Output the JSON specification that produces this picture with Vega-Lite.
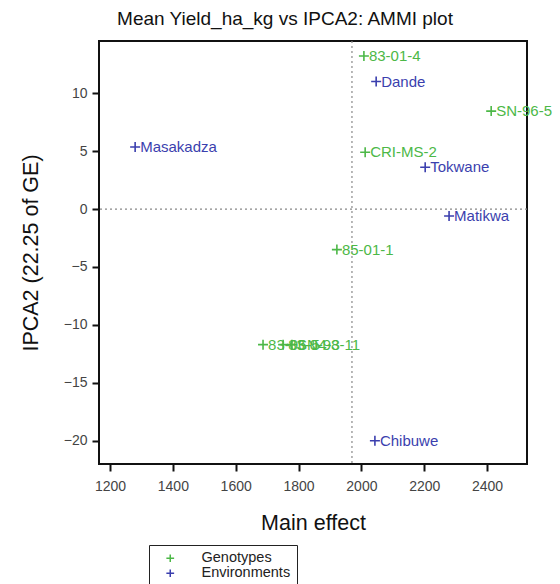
{
  "$schema": "https://vega.github.io/schema/vega-lite/v6.json",
  "autosize": {"type": "none"},
  "width": 428,
  "height": 423,
  "padding": {"left": 99, "top": 41, "right": 33, "bottom": 120},
  "background": "white",
  "title": {"text": "Mean Yield_ha_kg vs IPCA2: AMMI plot", "fontSize": 19, "fontWeight": "normal", "font": "Liberation Sans", "color": "#111", "offset": 11, "dx": -28},
  "config": {
    "view": {"stroke": "#111", "strokeWidth": 2},
    "axis": {"labelFont": "Liberation Sans", "titleFont": "Liberation Sans", "labelFontSize": 14, "labelColor": "#444", "titleFontSize": 21.5, "titleFontWeight": "normal", "titleColor": "#111", "domain": false, "grid": false, "tickColor": "#111", "tickWidth": 2, "tickSize": 7},
    "legend": {"strokeColor": "#222", "padding": 6}
  },
  "datasets": {
    "pts": [
      {"name": "83-01-4", "effect": 2008, "ipca2": 13.2, "type": "Genotypes"},
      {"name": "Dande", "effect": 2047, "ipca2": 11.0, "type": "Environments"},
      {"name": "SN-96-5", "effect": 2413, "ipca2": 8.45, "type": "Genotypes"},
      {"name": "Masakadza", "effect": 1280, "ipca2": 5.35, "type": "Environments"},
      {"name": "CRI-MS-2", "effect": 2012, "ipca2": 4.9, "type": "Genotypes"},
      {"name": "Tokwane", "effect": 2203, "ipca2": 3.6, "type": "Environments"},
      {"name": "Matikwa", "effect": 2279, "ipca2": -0.6, "type": "Environments"},
      {"name": "85-01-1", "effect": 1922, "ipca2": -3.5, "type": "Genotypes"},
      {"name": "83-06-5", "effect": 1687, "ipca2": -11.7, "type": "Genotypes"},
      {"name": "83-04-3", "effect": 1751, "ipca2": -11.7, "type": "Genotypes"},
      {"name": "SN-98-11", "effect": 1779, "ipca2": -11.7, "type": "Genotypes"},
      {"name": "Chibuwe", "effect": 2043, "ipca2": -20.0, "type": "Environments"}
    ],
    "refs": [{"mean": 1970, "zero": 0}]
  },
  "layer": [
    {
      "data": {"name": "refs"},
      "mark": {"type": "rule", "color": "#888", "strokeDash": [2, 3], "strokeWidth": 1.2},
      "encoding": {"x": {"field": "mean", "type": "quantitative", "scale": {"domain": [1165, 2527], "nice": false}}}
    },
    {
      "data": {"name": "refs"},
      "mark": {"type": "rule", "color": "#888", "strokeDash": [2, 3], "strokeWidth": 1.2},
      "encoding": {"y": {"field": "zero", "type": "quantitative", "scale": {"domain": [-22, 14.5], "nice": false}}}
    },
    {
      "data": {"name": "pts"},
      "mark": {"type": "point", "shape": "M-1,0H1M0,-1V1", "filled": false, "strokeWidth": 1.6, "size": 100, "opacity": 1},
      "encoding": {
        "x": {"field": "effect", "type": "quantitative", "scale": {"domain": [1165, 2527], "nice": false, "zero": false}, "axis": {"values": [1200, 1400, 1600, 1800, 2000, 2200, 2400], "format": "d", "title": "Main effect", "labelPadding": 8, "titlePadding": 19}},
        "y": {"field": "ipca2", "type": "quantitative", "scale": {"domain": [-22, 14.5], "nice": false, "zero": false}, "axis": {"values": [-20, -15, -10, -5, 0, 5, 10], "format": "d", "title": "IPCA2 (22.25 of GE)", "labelPadding": 5, "titlePadding": 21}},
        "color": {"field": "type", "type": "nominal", "scale": {"domain": ["Genotypes", "Environments"], "range": ["#4cb847", "#3b3fae"]},
          "legend": {"title": null, "orient": "none", "legendX": 50, "legendY": 504, "direction": "vertical", "symbolType": "M-1,0H1M0,-1V1", "symbolStrokeWidth": 1.5, "symbolSize": 60, "labelFont": "Liberation Sans", "labelFontSize": 14.5, "labelColor": "#222", "labelOffset": 24, "rowPadding": -1, "symbolOffset": 8, "labelLimit": 200}}
      }
    },
    {
      "data": {"name": "pts"},
      "mark": {"type": "text", "align": "left", "baseline": "middle", "dx": 5, "font": "Liberation Sans", "fontSize": 15},
      "encoding": {
        "x": {"field": "effect", "type": "quantitative"},
        "y": {"field": "ipca2", "type": "quantitative"},
        "text": {"field": "name"},
        "color": {"field": "type", "type": "nominal", "legend": null}
      }
    }
  ]
}
